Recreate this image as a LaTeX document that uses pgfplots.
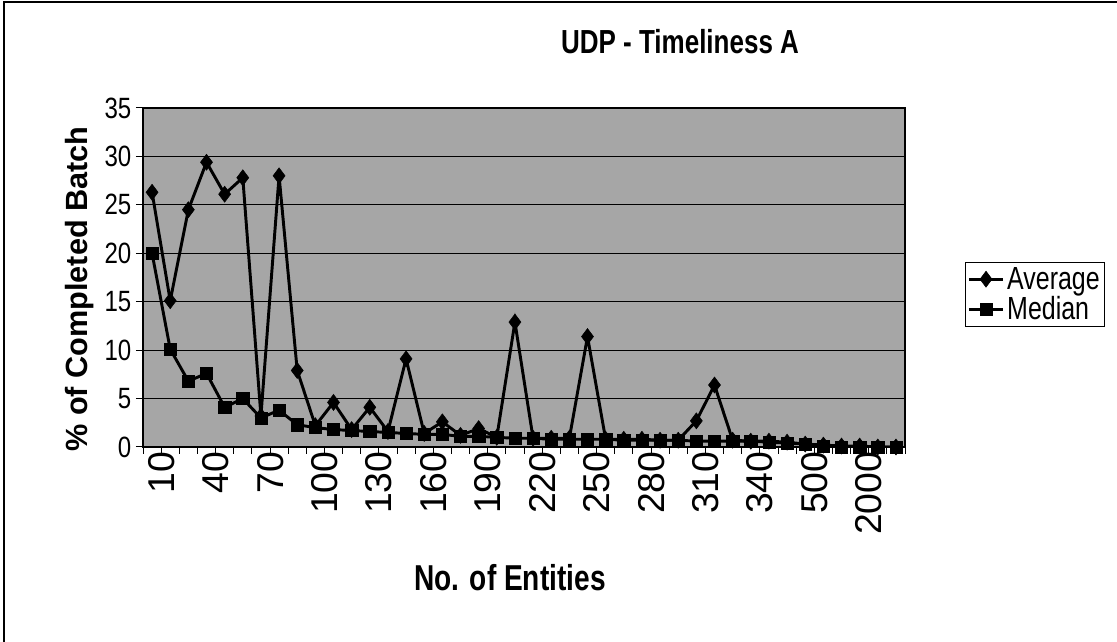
\documentclass[border=0pt]{standalone}
\usepackage{fontspec}
\setmainfont{Liberation Sans}
\newfontfamily\narrow{Liberation Sans}[FakeStretch=0.78]
\newfontfamily\semi{Liberation Sans}[FakeStretch=0.82]
\usepackage{pgfplots}
\usepackage{pgfplotstable}
\pgfplotsset{compat=1.18}

% idx = category position (10,20,...,340, then the larger batches)
\pgfplotstableread{
idx avg med
0 26.3 20.0
1 15.1 10.1
2 24.5 6.8
3 29.4 7.6
4 26.1 4.1
5 27.8 5.0
6 3.2 3.0
7 28.0 3.8
8 7.9 2.3
9 2.2 2.0
10 4.6 1.8
11 1.8 1.7
12 4.1 1.6
13 1.6 1.5
14 9.1 1.4
15 1.4 1.3
16 2.6 1.3
17 1.2 1.1
18 1.9 1.1
19 1.0 1.0
20 12.9 0.9
21 0.9 0.9
22 0.9 0.8
23 0.9 0.8
24 11.4 0.8
25 0.8 0.8
26 0.8 0.7
27 0.8 0.7
28 0.7 0.7
29 0.7 0.7
30 2.7 0.6
31 6.4 0.6
32 0.7 0.6
33 0.6 0.6
34 0.6 0.5
35 0.5 0.4
36 0.3 0.3
37 0.2 0.1
38 0.1 0.0
39 0.1 0.0
40 0.0 0.0
41 0.0 0.0
}\udpdata

\begin{document}
\begin{tikzpicture}[x=0.75pt,y=0.75pt]
\path[use as bounding box] (0,0) rectangle (1117,642);
\draw[line width=0.9pt] (4,0) -- (4,640) -- (1117,640);
\node[font=\narrow\bfseries\fontsize{25}{28}\selectfont] at (680,600) {UDP - Timeliness A};
\node[font=\bfseries\fontsize{23}{26}\selectfont, rotate=90] at (80,353) {\% of Completed Batch};
\node[font=\narrow\bfseries\fontsize{27}{30}\selectfont] at (510,64) {No. of Entities};
\begin{axis}[
  at={(107.25pt,146.25pt)}, anchor=south west,
  scale only axis, width=571.5pt, height=254.25pt,
  xmin=-0.5, xmax=41.5, ymin=0, ymax=35,
  tick pos=left,
  xtick={-0.5,0.5,...,41.5},
  xticklabels={},
  extra x ticks={0,3,...,39},
  extra x tick labels={10,40,70,100,130,160,190,220,250,280,310,340,500,2000},
  extra x tick style={major tick length=0pt,
    xticklabel style={rotate=90, anchor=east, yshift=-7pt,
      font=\fontsize{28}{30}\selectfont}},
  ytick={0,5,...,35},
  yticklabel style={font=\semi\fontsize{22}{24}\selectfont,
    /pgf/number format/assume math mode=true},
  ymajorgrids,
  grid style={black, line width=0.75pt},
  axis background/.style={fill=black!35},
  axis line style={line width=1pt},
  tick style={black, line width=0.75pt},
  tick align=outside,
  major tick length=5.25pt,
  legend image code/.code={\draw[mark repeat=2,mark phase=2,#1]
    plot coordinates {(0cm,0cm) (0.45cm,0cm) (0.9cm,0cm)};},
  legend style={at={(1.0787,0.5457)}, anchor=north west,
    draw=black, line width=0.75pt, fill=white,
    font=\narrow\fontsize{24}{26}\selectfont, row sep=0pt,
    inner sep=1.5pt, cells={anchor=west}},
  legend cell align=left,
]
\addplot[black, line width=2.2pt, mark=diamond*, mark size=6pt,
  mark options={solid, line width=0.4pt}] table[x=idx, y=avg] {\udpdata};
\addlegendentry{Average}
\addplot[black, line width=2.2pt, mark=square*, mark size=4.6pt,
  mark options={solid, line width=0.4pt}] table[x=idx, y=med] {\udpdata};
\addlegendentry{Median}
\end{axis}
\end{tikzpicture}
\end{document}
